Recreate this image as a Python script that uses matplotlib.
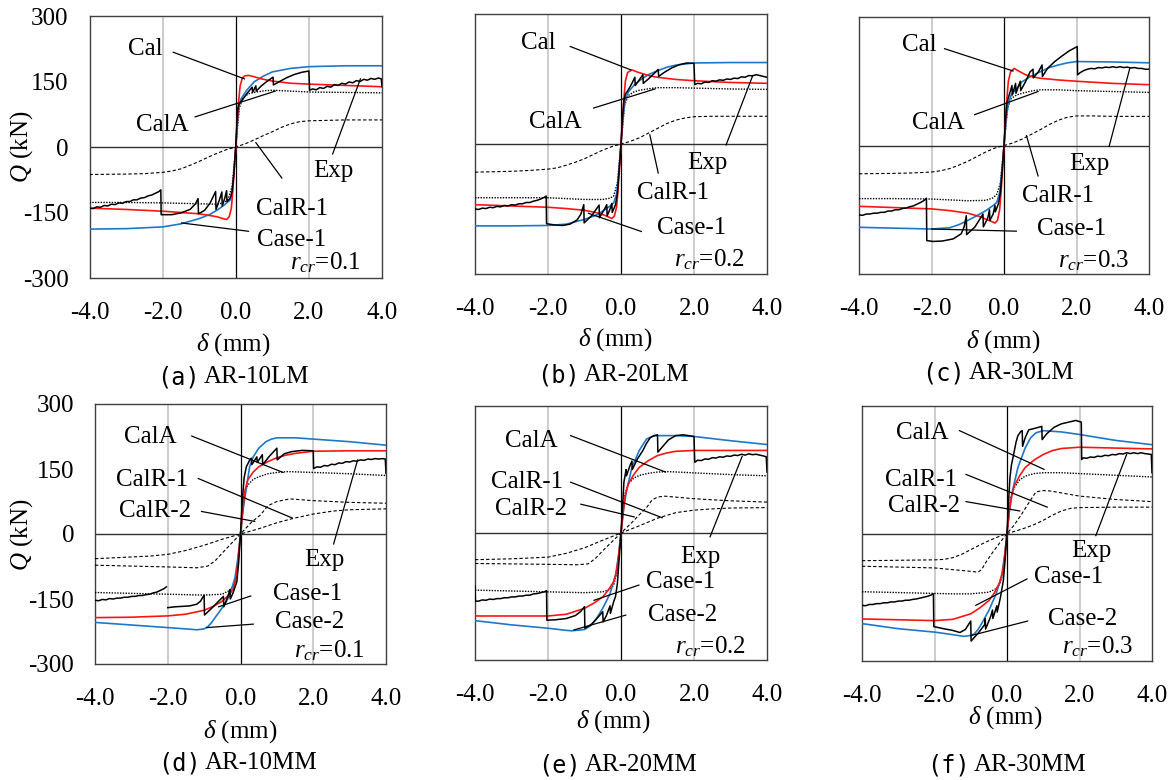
import matplotlib
matplotlib.use('Agg')
import matplotlib.pyplot as plt
import numpy as np

plt.rcParams['font.family'] = ['Liberation Serif', 'DejaVu Sans']
plt.rcParams['mathtext.fontset'] = 'custom'
plt.rcParams['mathtext.rm'] = 'Liberation Serif'
plt.rcParams['mathtext.it'] = 'Liberation Serif:italic'

NAN = np.nan
# ---------------- data (delta in mm, Q in kN) ----------------
x_ticks = [-4.0, -2.0, 0.0, 2.0, 4.0]
x_ticklabels = ['-4.0', '-2.0', '0.0', '2.0', '4.0']
y_ticks = [-300, -150, 0, 150, 300]
y_ticklabels = ['-300', '-150', '0', '150', '300']

# (a) AR-10LM
a_red = [(-4.0,-140),(-3.0,-143),(-2.0,-147),(-1.5,-150),(-1.0,-153),(-0.7,-157),(-0.5,-160),(-0.35,-164),(-0.25,-166),(-0.18,-160),(-0.12,-140),(-0.08,-100),(-0.04,-50),(0,0),(0.04,55),(0.08,105),(0.12,140),(0.18,158),(0.25,163),(0.35,164),(0.5,161),(0.7,156),(1.0,151),(1.5,146),(2.0,144),(3.0,141),(4.0,138)]
a_blue = [(-4.0,-188),(-3.0,-187),(-2.0,-183),(-1.5,-176),(-1.0,-164),(-0.7,-154),(-0.5,-144),(-0.3,-132),(-0.15,-121),(-0.1,-105),(-0.05,-60),(0,0),(0.05,60),(0.1,100),(0.15,111),(0.3,130),(0.5,149),(0.75,162),(1.0,172),(1.5,180),(2.0,184),(3.0,186),(4.0,186)]
a_dot = [(-4.0,-127),(-3.0,-127),(-2.0,-128),(-1.0,-130),(-0.5,-131),(-0.3,-127),(-0.2,-117),(-0.1,-90),(0,0),(0.1,90),(0.2,113),(0.35,122),(0.5,125),(0.8,129),(1.0,130),(1.5,128),(2.0,126),(3.0,125),(4.0,124)]
a_dash1 = [(-4.0,-63),(-3.0,-62),(-2.5,-61),(-2.0,-58),(-1.75,-55),(-1.5,-50),(-1.25,-42),(-1.0,-33),(-0.75,-23),(-0.5,-14),(-0.25,-6),(0,0),(0.25,7),(0.5,16),(0.75,26),(1.0,35),(1.25,45),(1.5,53),(1.75,58),(2.0,60),(2.5,61),(3.0,62),(4.0,62)]
a_exp = [(-4.0,-140),(-3.9,-141),(-3.8,-137),(-3.7,-138),(-3.6,-134),(-3.5,-135),(-3.4,-131),(-3.3,-132),(-3.2,-128),(-3.1,-129),(-3.0,-125),(-2.9,-125),(-2.8,-121),(-2.7,-121),(-2.6,-117),(-2.5,-116),(-2.4,-112),(-2.3,-110),(-2.2,-106),(-2.1,-102),(-2.05,-98),
         (-2.04,-155),(-1.75,-155),(-1.5,-151),(-1.25,-143),(-1.1,-130),(-1.03,-118),(-1.02,-153),(-0.85,-145),(-0.7,-128),(-0.55,-102),(-0.54,-143),(-0.45,-122),(-0.38,-103),(-0.37,-135),(-0.3,-117),(-0.25,-100),(-0.24,-125),(-0.15,-117),(-0.1,-102),(-0.05,-60),(0.0,0),
         (0.03,55),(0.06,90),(0.1,100),(0.2,110),(0.3,122),(0.45,137),(0.46,125),(0.55,140),(0.56,128),(0.7,140),(0.85,150),(1.02,160),(1.03,142),(1.2,150),(1.4,159),(1.6,166),(1.8,171),(2.0,174),(2.02,130),
         (2.1,133),(2.2,131),(2.3,136),(2.4,134),(2.5,139),(2.6,137),(2.7,143),(2.8,141),(2.9,146),(3.0,144),(3.1,149),(3.2,147),(3.3,152),(3.4,150),(3.5,155),(3.6,153),(3.7,157),(3.8,155),(3.9,158),(3.98,156),(4.0,138)]

# (b) AR-20LM
b_red = [(-4.0,-140),(-3.0,-143),(-2.0,-146),(-1.5,-149),(-1.0,-153),(-0.7,-158),(-0.5,-163),(-0.35,-168),(-0.25,-172),(-0.18,-166),(-0.12,-145),(-0.08,-105),(-0.04,-55),(0,0),(0.04,55),(0.08,105),(0.12,145),(0.18,165),(0.3,171),(0.45,166),(0.6,162),(0.8,157),(1.0,154),(1.5,149),(2.0,146),(3.0,142),(4.0,140)]
b_blue = [(-4.0,-189),(-3.0,-189),(-2.0,-188),(-1.5,-185),(-1.0,-174),(-0.7,-165),(-0.5,-155),(-0.3,-143),(-0.2,-136),(-0.12,-115),(-0.06,-65),(0,0),(0.06,65),(0.12,105),(0.2,120),(0.35,135),(0.5,146),(0.75,160),(1.0,169),(1.25,177),(1.5,182),(2.0,187),(3.0,188),(4.0,188)]
b_dot = [(-4.0,-124),(-3.0,-124),(-2.0,-124),(-1.0,-128),(-0.5,-128),(-0.3,-125),(-0.2,-120),(-0.1,-90),(0,0),(0.1,90),(0.2,112),(0.35,120),(0.5,124),(0.8,128),(1.0,130),(1.5,130),(2.0,129),(3.0,127),(4.0,126)]
b_dash1 = [(-4.0,-65),(-3.0,-63),(-2.5,-61),(-2.0,-58),(-1.75,-55),(-1.5,-49),(-1.25,-42),(-1.0,-34),(-0.75,-24),(-0.5,-14),(-0.25,-6),(0,0),(0.25,6),(0.5,14),(0.75,25),(1.0,36),(1.25,47),(1.5,55),(1.75,60),(2.0,63),(2.5,64),(3.0,64),(4.0,64)]
b_exp = [(-4.0,-150),(-3.9,-151),(-3.8,-148),(-3.7,-149),(-3.6,-146),(-3.5,-147),(-3.4,-144),(-3.3,-145),(-3.2,-142),(-3.1,-143),(-3.0,-140),(-2.9,-141),(-2.8,-138),(-2.7,-138),(-2.6,-135),(-2.5,-135),(-2.4,-132),(-2.3,-130),(-2.2,-127),(-2.1,-123),(-2.05,-120),
         (-2.04,-184),(-1.8,-187),(-1.6,-188),(-1.4,-185),(-1.2,-175),(-1.1,-162),(-1.02,-140),(-1.01,-182),(-0.8,-165),(-0.6,-141),(-0.59,-170),(-0.45,-150),(-0.39,-140),(-0.38,-166),(-0.3,-150),(-0.25,-137),(-0.24,-158),(-0.15,-140),(-0.1,-115),(-0.05,-60),(0.0,0),
         (0.04,60),(0.08,100),(0.12,115),(0.2,125),(0.3,140),(0.38,154),(0.39,135),(0.5,148),(0.6,160),(0.61,140),(0.75,150),(0.9,162),(1.02,172),(1.03,156),(1.2,166),(1.4,176),(1.6,183),(1.8,187),(2.0,186),(2.02,137),
         (2.1,140),(2.2,139),(2.3,143),(2.4,142),(2.5,146),(2.6,145),(2.7,148),(2.8,147),(2.9,150),(3.0,149),(3.1,152),(3.2,151),(3.3,155),(3.4,154),(3.5,158),(3.6,157),(3.7,160),(3.8,158),(3.9,156),(4.0,154)]

# (c) AR-30LM
c_red = [(-4.0,-142),(-3.0,-145),(-2.0,-148),(-1.5,-152),(-1.0,-158),(-0.7,-165),(-0.5,-172),(-0.35,-177),(-0.25,-181),(-0.18,-175),(-0.12,-150),(-0.08,-108),(-0.04,-55),(0,0),(0.04,55),(0.08,110),(0.12,150),(0.18,172),(0.28,180),(0.4,174),(0.6,165),(0.8,160),(1.0,157),(1.5,153),(2.0,150),(3.0,145),(4.0,142)]
c_blue = [(-4.0,-191),(-3.0,-193),(-2.0,-195),(-1.5,-192),(-1.25,-185),(-1.0,-175),(-0.75,-164),(-0.5,-152),(-0.3,-140),(-0.2,-133),(-0.12,-110),(-0.06,-60),(0,0),(0.06,60),(0.12,100),(0.2,118),(0.35,134),(0.5,149),(0.75,162),(1.0,172),(1.25,182),(1.5,188),(1.75,193),(2.0,196),(3.0,195),(4.0,193)]
c_dot = [(-4.0,-124),(-3.0,-124),(-2.0,-125),(-1.0,-129),(-0.5,-128),(-0.3,-122),(-0.2,-114),(-0.1,-88),(0,0),(0.1,88),(0.2,110),(0.35,118),(0.5,122),(0.8,128),(1.0,130),(1.5,130),(2.0,128),(3.0,126),(4.0,124)]
c_dash1 = [(-4.0,-66),(-3.0,-65),(-2.5,-64),(-2.0,-62),(-1.75,-59),(-1.5,-54),(-1.25,-46),(-1.0,-37),(-0.75,-26),(-0.5,-15),(-0.25,-6),(0,0),(0.25,6),(0.5,15),(0.75,26),(1.0,37),(1.25,49),(1.5,59),(1.75,66),(2.0,69),(2.5,69),(3.0,68),(4.0,68)]
c_exp = [(-4.0,-162),(-3.9,-163),(-3.8,-160),(-3.7,-160),(-3.6,-158),(-3.5,-158),(-3.4,-156),(-3.3,-156),(-3.2,-153),(-3.1,-153),(-3.0,-150),(-2.9,-150),(-2.8,-147),(-2.7,-146),(-2.6,-143),(-2.5,-141),(-2.4,-137),(-2.3,-133),(-2.2,-128),(-2.14,-123),
         (-2.13,-222),(-1.96,-224),(-1.7,-223),(-1.4,-218),(-1.18,-206),(-1.1,-190),(-1.04,-164),(-1.03,-208),(-0.8,-190),(-0.58,-160),(-0.57,-190),(-0.45,-170),(-0.4,-150),(-0.39,-175),(-0.3,-160),(-0.25,-140),(-0.24,-155),(-0.15,-135),(-0.1,-110),(-0.05,-60),(0.0,0),
         (0.04,60),(0.08,100),(0.15,120),(0.22,140),(0.23,118),(0.32,145),(0.33,122),(0.45,150),(0.46,128),(0.6,150),(0.72,172),(0.8,178),(0.81,158),(0.95,172),(1.05,188),(1.06,161),(1.2,180),(1.4,196),(1.6,209),(1.8,221),(2.02,231),(2.03,165),
         (2.1,170),(2.2,175),(2.3,178),(2.4,180),(2.5,179),(2.6,182),(2.7,181),(2.8,183),(2.9,182),(3.0,184),(3.1,182),(3.2,184),(3.3,182),(3.4,183),(3.5,181),(3.6,182),(3.7,180),(3.8,180),(3.9,178),(4.0,178)]

# (d) AR-10MM
d_red = [(-4.0,-193),(-3.0,-192),(-2.0,-189),(-1.5,-185),(-1.0,-176),(-0.75,-167),(-0.5,-155),(-0.35,-143),(-0.2,-128),(-0.12,-100),(-0.06,-55),(0,0),(0.06,55),(0.12,100),(0.2,125),(0.35,143),(0.5,155),(0.75,167),(1.0,176),(1.25,182),(1.5,186),(2.0,191),(3.0,192),(4.0,192)]
d_blue = [(-4.0,-204),(-3.0,-210),(-2.0,-216),(-1.5,-219),(-1.2,-221),(-1.0,-219),(-0.9,-214),(-0.8,-205),(-0.7,-193),(-0.5,-170),(-0.3,-143),(-0.15,-100),(-0.07,-55),(0,0),(0.07,55),(0.15,100),(0.25,155),(0.35,178),(0.5,198),(0.7,213),(0.85,219),(1.0,222),(1.5,222),(2.0,219),(3.0,213),(4.0,205)]
d_dot = [(-4.0,-135),(-3.0,-137),(-2.0,-139),(-1.5,-140),(-1.0,-141),(-0.5,-139),(-0.3,-130),(-0.2,-120),(-0.1,-90),(0,0),(0.1,90),(0.2,113),(0.35,126),(0.5,132),(0.75,139),(1.0,142),(1.3,144),(2.0,142),(3.0,139),(4.0,135)]
d_dash1 = [(-4.0,-57),(-3.0,-53),(-2.5,-51),(-2.0,-47),(-1.5,-38),(-1.0,-26),(-0.5,-12),(0,0),(0.5,12),(1.0,26),(1.45,36),(2.0,46),(2.55,53),(3.0,56),(4.0,58)]
d_dash2 = [(-4.0,-72),(-3.0,-74),(-2.0,-76),(-1.2,-78),(-0.9,-74),(-0.7,-62),(-0.5,-44),(-0.3,-26),(0,0),(0.3,27),(0.55,44),(0.75,65),(1.0,75),(1.35,81),(2.0,77),(3.0,73),(4.0,71)]
d_exp = [(-4.0,-153),(-3.9,-154),(-3.8,-151),(-3.7,-152),(-3.6,-149),(-3.5,-150),(-3.4,-148),(-3.3,-148),(-3.2,-146),(-3.1,-146),(-3.0,-144),(-2.9,-144),(-2.8,-142),(-2.7,-142),(-2.6,-140),(-2.5,-139),(-2.4,-136),(-2.3,-134),(-2.2,-130),(-2.1,-126),(-2.04,-122),(NAN,NAN),
         (-2.0,-170),(-1.8,-168),(-1.6,-167),(-1.4,-166),(-1.2,-162),(-1.1,-155),(-1.0,-141),(-0.99,-187),(-0.8,-172),(-0.6,-155),(-0.47,-144),(-0.46,-168),(-0.35,-145),(-0.29,-128),(-0.28,-150),(-0.2,-135),(-0.1,-110),(-0.05,-65),(0.0,0),
         (0.05,80),(0.1,130),(0.16,155),(0.25,170),(0.3,175),(0.31,160),(0.45,178),(0.46,165),(0.6,183),(0.61,160),(0.8,180),(1.0,198),(1.01,171),(1.2,185),(1.4,190),(1.7,193),(2.0,192),(2.01,151),
         (2.1,155),(2.2,154),(2.3,158),(2.4,157),(2.5,161),(2.6,160),(2.7,164),(2.8,163),(2.9,167),(3.0,166),(3.1,169),(3.2,168),(3.3,171),(3.4,170),(3.5,173),(3.6,172),(3.7,174),(3.8,173),(3.9,174),(3.98,173),(4.0,140)]

# (e) AR-20MM
e_red = [(-4.0,-196),(-3.0,-196),(-2.0,-196),(-1.5,-192),(-1.0,-178),(-0.75,-166),(-0.5,-151),(-0.35,-135),(-0.2,-115),(-0.12,-90),(-0.06,-50),(0,0),(0.06,50),(0.12,90),(0.2,116),(0.35,138),(0.5,155),(0.75,171),(1.0,183),(1.25,189),(1.5,193),(2.0,195),(3.0,195),(4.0,195)]
e_blue = [(-4.0,-207),(-3.0,-217),(-2.0,-225),(-1.5,-230),(-1.35,-231),(-1.0,-228),(-0.85,-220),(-0.7,-206),(-0.5,-178),(-0.3,-143),(-0.15,-100),(-0.07,-55),(0,0),(0.07,55),(0.15,100),(0.3,155),(0.5,195),(0.7,222),(0.85,228),(1.0,230),(1.5,230),(2.0,228),(3.0,218),(4.0,209)]
e_dot = [(-4.0,-135),(-3.0,-137),(-2.0,-139),(-1.5,-140),(-1.0,-141),(-0.5,-139),(-0.3,-133),(-0.2,-123),(-0.1,-90),(0,0),(0.1,90),(0.2,116),(0.35,130),(0.5,136),(0.75,141),(1.0,144),(1.3,145),(2.0,142),(3.0,138),(4.0,135)]
e_dash1 = [(-4.0,-63),(-3.0,-61),(-2.0,-57),(-1.5,-48),(-1.0,-35),(-0.5,-17),(0,0),(0.5,17),(1.0,35),(1.5,48),(2.0,54),(2.5,57),(3.0,59),(4.0,60)]
e_dash2 = [(-4.0,-72),(-3.0,-73),(-2.0,-74),(-1.2,-75),(-0.9,-73),(-0.7,-60),(-0.5,-42),(-0.3,-25),(0,0),(0.3,25),(0.5,43),(0.7,60),(0.85,78),(1.0,85),(1.2,87),(2.0,81),(3.0,76),(4.0,73)]
e_exp = [(-4.0,-125),(-3.99,-161),(-3.9,-161),(-3.8,-158),(-3.7,-159),(-3.6,-156),(-3.5,-157),(-3.4,-155),(-3.3,-155),(-3.2,-153),(-3.1,-153),(-3.0,-151),(-2.9,-151),(-2.8,-149),(-2.7,-149),(-2.6,-147),(-2.5,-147),(-2.4,-144),(-2.3,-143),(-2.2,-141),(-2.1,-139),(-2.04,-136),
         (-2.03,-206),(-1.8,-205),(-1.5,-202),(-1.25,-195),(-1.1,-185),(-1.0,-174),(-0.99,-225),(-0.8,-215),(-0.6,-196),(-0.5,-186),(-0.49,-210),(-0.4,-195),(-0.3,-172),(-0.29,-190),(-0.2,-162),(-0.15,-150),(-0.1,-120),(-0.05,-60),(0.0,0),
         (0.04,60),(0.08,120),(0.14,150),(0.15,135),(0.25,160),(0.3,170),(0.31,150),(0.45,175),(0.6,195),(0.7,212),(0.8,225),(0.9,230),(1.0,232),(1.01,191),(1.1,200),(1.3,220),(1.5,230),(1.7,232),(2.0,228),(2.02,167),
         (2.1,172),(2.2,171),(2.3,175),(2.4,174),(2.5,178),(2.6,177),(2.7,180),(2.8,179),(2.9,182),(3.0,181),(3.1,184),(3.2,183),(3.3,186),(3.4,184),(3.5,187),(3.6,185),(3.7,186),(3.8,184),(3.9,182),(3.98,180),(4.0,144)]

# (f) AR-30MM
f_red = [(-4.0,-201),(-3.0,-203),(-2.0,-205),(-1.5,-202),(-1.0,-189),(-0.75,-175),(-0.5,-158),(-0.35,-140),(-0.2,-115),(-0.12,-90),(-0.06,-50),(0,0),(0.06,50),(0.12,85),(0.2,112),(0.35,136),(0.5,155),(0.75,173),(1.0,186),(1.25,195),(1.5,200),(2.0,203),(3.0,201),(4.0,199)]
f_blue = [(-4.0,-212),(-3.0,-224),(-2.0,-232),(-1.5,-238),(-1.2,-242),(-1.0,-240),(-0.9,-236),(-0.8,-226),(-0.7,-212),(-0.5,-181),(-0.3,-142),(-0.15,-100),(-0.07,-55),(0,0),(0.07,55),(0.15,100),(0.3,155),(0.5,201),(0.65,225),(0.8,237),(1.0,242),(1.5,239),(2.0,233),(3.0,219),(4.0,209)]
f_dot = [(-4.0,-137),(-3.0,-139),(-2.0,-141),(-1.5,-142),(-1.0,-142),(-0.5,-138),(-0.3,-130),(-0.2,-119),(-0.1,-90),(0,0),(0.1,85),(0.2,108),(0.35,126),(0.5,135),(0.75,141),(1.0,143),(1.5,143),(2.0,141),(3.0,137),(4.0,133)]
f_dash1 = [(-4.0,-64),(-3.0,-63),(-2.0,-62),(-1.75,-61),(-1.5,-57),(-1.25,-49),(-1.0,-38),(-0.75,-27),(-0.5,-17),(-0.25,-8),(0,0),(0.25,6),(0.5,13),(0.75,21),(1.0,31),(1.25,43),(1.5,53),(1.75,59),(2.0,61),(3.0,62),(4.0,62)]
f_dash2 = [(-4.0,-77),(-3.0,-79),(-2.0,-81),(-1.5,-85),(-1.0,-89),(-0.8,-91),(-0.7,-85),(-0.6,-70),(-0.4,-45),(-0.2,-22),(0,0),(0.2,20),(0.4,45),(0.6,72),(0.8,98),(1.0,101),(1.2,100),(2.0,88),(3.0,80),(4.0,75)]
f_exp = [(-4.0,-169),(-3.9,-170),(-3.8,-167),(-3.7,-167),(-3.6,-165),(-3.5,-165),(-3.4,-163),(-3.3,-163),(-3.2,-161),(-3.1,-161),(-3.0,-159),(-2.9,-159),(-2.8,-157),(-2.7,-157),(-2.6,-155),(-2.5,-154),(-2.4,-152),(-2.3,-150),(-2.2,-148),(-2.1,-145),(-2.03,-142),
         (-2.02,-219),(-1.75,-224),(-1.5,-228),(-1.3,-233),(-1.15,-226),(-1.0,-206),(-0.99,-253),(-0.8,-235),(-0.62,-215),(-0.6,-200),(-0.59,-225),(-0.45,-195),(-0.4,-180),(-0.39,-200),(-0.28,-170),(-0.27,-185),(-0.18,-150),(-0.1,-110),(-0.05,-60),(0.0,0),
         (0.04,70),(0.08,130),(0.12,160),(0.18,185),(0.25,215),(0.3,230),(0.38,240),(0.42,242),(0.43,205),(0.5,225),(0.6,244),(0.75,247),(0.96,252),(0.97,221),(1.1,235),(1.3,250),(1.5,258),(1.7,262),(1.9,266),(2.05,262),(2.06,174),
         (2.1,178),(2.2,177),(2.3,180),(2.4,179),(2.5,182),(2.6,181),(2.7,184),(2.8,183),(2.9,186),(3.0,185),(3.1,188),(3.2,187),(3.3,190),(3.4,188),(3.5,190),(3.6,188),(3.7,190),(3.8,188),(3.9,187),(3.98,186),(4.0,143)]

# curve labels: (text, text_x, text_y, line_x1, line_y1, line_x2, line_y2)
a_labels = [('Cal', -2.48, 225, -1.71, 217, 0.24, 156), ('CalA', -2.01, 50, -1.11, 69, 1.08, 128),
            ('Exp', 2.68, -56, 2.65, -16, 3.41, 156), ('CalR-1', 1.53, -141, 1.26, -71, 0.55, 10),
            ('Case-1', 1.53, -212, 0.35, -193, -1.48, -174)]
b_labels = [('Cal', -2.27, 234, -1.39, 225, 0.27, 171), ('CalA', -1.8, 51, -0.75, 83, 0.93, 127),
            ('Exp', 2.36, -44, 2.88, -2, 3.61, 158), ('CalR-1', 1.43, -113, 1.02, -67, 0.79, 21),
            ('Case-1', 1.93, -193, 0.56, -202, -0.89, -160)]
c_labels = [('Cal', -2.33, 234, -1.64, 226, 0.25, 174), ('CalA', -1.82, 53, -0.81, 72, 0.94, 126),
            ('Exp', 2.36, -44, 2.9, -2, 3.47, 180), ('CalR-1', 1.49, -117, 0.94, -71, 0.62, 23),
            ('Case-1', 1.86, -195, 0.34, -200, -2.0, -195)]
d_labels = [('CalA', -2.48, 224, -1.34, 226, 1.17, 142), ('CalR-1', -2.44, 125, -1.16, 128, 1.42, 37),
            ('CalR-2', -2.35, 52, -1.07, 52, 0.39, 29), ('Exp', 2.31, -59, 2.56, -23, 3.22, 171),
            ('Case-1', 1.85, -139, 0.28, -143, -0.6, -168), ('Case-2', 1.9, -204, 0.35, -208, -0.93, -216)]
e_labels = [('CalA', -2.47, 218, -1.38, 230, 1.22, 144), ('CalR-1', -2.57, 120, -1.38, 120, 1.13, 36),
            ('CalR-2', -2.47, 57, -1.1, 68, 0.36, 38), ('Exp', 2.18, -57, 2.44, -9, 3.32, 181),
            ('Case-1', 1.63, -115, 0.49, -123, -0.74, -159), ('Case-2', 1.68, -194, 0.13, -194, -1.29, -229)]
f_labels = [('CalA', -2.34, 237, -1.31, 242, 1.02, 151), ('CalR-1', -2.38, 127, -1.13, 139, 1.11, 62),
            ('CalR-2', -2.29, 65, -1.13, 75, 0.35, 53), ('Exp', 2.32, -41, 2.45, -5, 3.3, 186),
            ('Case-1', 1.69, -103, 0.55, -107, -0.86, -169), ('Case-2', 2.08, -201, 0.57, -206, -0.99, -240)]

rcr_values = ['0.1', '0.2', '0.3', '0.1', '0.2', '0.3']
captions_tag = ['(a)', '(b)', '(c)', '(d)', '(e)', '(f)']
captions_name = ['AR-10LM', 'AR-20LM', 'AR-30LM', 'AR-10MM', 'AR-20MM', 'AR-30MM']

# ---------------- layout (pixels) ----------------
W, H = 1173, 780
fig = plt.figure(figsize=(W / 100, H / 100), dpi=100)

def fx(px):
    return px / W

def fy(py):
    return 1 - py / H

# left, top, right, bottom in pixels
rects = [(89.5, 16, 382, 278), (475, 14, 767, 274), (859, 17, 1149, 274),
         (95, 404, 386, 664), (475, 406, 767, 660), (862, 406, 1152, 661)]
xlabel_pos = [(233, 345), (615, 340), (1003, 342), (240, 732), (613, 722), (1005, 718)]
caption_pos = [(157, 377), (537, 375), (922, 373), (158, 763), (538, 765), (927, 765)]
rcr_pos = [(2.45, -265), (2.43, -266), (2.46, -268), (2.45, -269), (2.46, -268), (2.5, -267)]

BLUE = '#1E78C8'
RED = '#FF1414'
GRID = '#BFBFBF'
FS = 18

panels = [
    dict(red=a_red, blue=a_blue, dot=a_dot, dashes=[a_dash1], exp=a_exp, labels=a_labels),
    dict(red=b_red, blue=b_blue, dot=b_dot, dashes=[b_dash1], exp=b_exp, labels=b_labels),
    dict(red=c_red, blue=c_blue, dot=c_dot, dashes=[c_dash1], exp=c_exp, labels=c_labels),
    dict(red=d_red, blue=d_blue, dot=d_dot, dashes=[d_dash1, d_dash2], exp=d_exp, labels=d_labels),
    dict(red=e_red, blue=e_blue, dot=e_dot, dashes=[e_dash1, e_dash2], exp=e_exp, labels=e_labels),
    dict(red=f_red, blue=f_blue, dot=f_dot, dashes=[f_dash1, f_dash2], exp=f_exp, labels=f_labels),
]

def draw(ax, pts, **kw):
    xs = [p[0] for p in pts]
    ys = [p[1] for p in pts]
    ax.plot(xs, ys, **kw)

for i, (rect, p) in enumerate(zip(rects, panels)):
    l, t, r, b = rect
    ax = fig.add_axes([fx(l), fy(b), (r - l) / W, (b - t) / H])
    ax.set_xlim(-4, 4)
    ax.set_ylim(-300, 300)
    for xv in (-2.0, 2.0):
        ax.axvline(xv, color=GRID, lw=1.1, zorder=1)
    ax.axvline(0, color='black', lw=0.9, zorder=2)
    ax.axhline(0, color='#303030', lw=1.0, zorder=2)
    for d in p['dashes']:
        draw(ax, d, color='black', lw=0.8, ls=(0, (3, 2)), zorder=3)
    draw(ax, p['dot'], color='black', lw=1.0, ls=(0, (1, 1)), zorder=3)
    draw(ax, p['blue'], color=BLUE, lw=1.2, zorder=4)
    draw(ax, p['red'], color=RED, lw=1.2, zorder=5)
    draw(ax, p['exp'], color='black', lw=1.1, zorder=6)
    for (txt, tx, ty, x1, y1, x2, y2) in p['labels']:
        ax.text(tx, ty, txt, ha='center', va='center', fontsize=FS, zorder=8)
        ax.plot([x1, x2], [y1, y2], color='black', lw=0.9, zorder=7)
    rx, ry = rcr_pos[i]
    ax.text(rx, ry, r'$r_{cr}$=' + rcr_values[i], ha='center', va='center', fontsize=FS, zorder=8)

    ax.set_xticks(x_ticks)
    ax.set_xticklabels(x_ticklabels)
    ax.set_yticks(y_ticks)
    if i in (0, 3):
        ax.set_yticklabels(y_ticklabels)
    else:
        ax.set_yticklabels([])
    ax.tick_params(axis='both', length=0, labelsize=FS)
    ax.tick_params(axis='x', pad=17)
    ax.tick_params(axis='y', pad=15)
    for s in ax.spines.values():
        s.set_color('#404040')
        s.set_linewidth(1.0)

    xl, yl = xlabel_pos[i]
    fig.text(fx(xl), fy(yl), r'$\delta$ (mm)', ha='center', va='center', fontsize=FS)
    cx, cy = caption_pos[i]
    fig.text(fx(cx), fy(cy), captions_tag[i], ha='left', va='center', fontsize=17,
             family=['DejaVu Sans Mono'])
    fig.text(fx(cx + 47), fy(cy), captions_name[i], ha='left', va='center', fontsize=FS)

for yl in (147, 535):
    fig.text(fx(22), fy(yl), r'$Q$ (kN)', ha='center', va='center', fontsize=FS, rotation=90)

fig.savefig('out.png', dpi=100)
